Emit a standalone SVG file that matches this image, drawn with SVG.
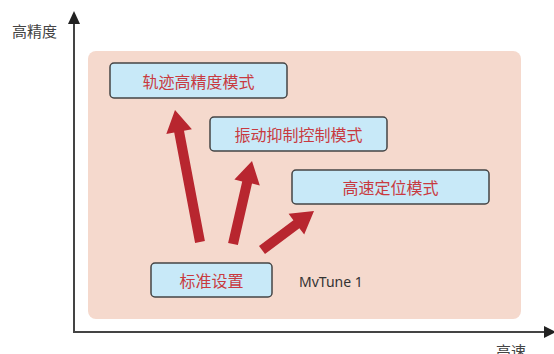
<svg xmlns="http://www.w3.org/2000/svg" width="554" height="354" viewBox="0 0 554 354">
<style>
.ax{stroke:#444;stroke-width:2;fill:none}
.axt{font-family:"Noto Sans CJK SC","Noto Sans",sans-serif;font-size:15px;fill:#444}
.box{fill:#c8e9f8;stroke:#444;stroke-width:1.5}
.lbl{font-family:"Noto Sans CJK SC","Noto Sans",sans-serif;font-size:16px;fill:#c83a40;text-anchor:middle;dominant-baseline:central}
.arr{fill:#b8262f}
.note{font-family:"Noto Sans","Noto Sans CJK SC",sans-serif;font-size:14px;fill:#333}
</style>
<rect x="0" y="0" width="554" height="354" fill="#ffffff"/>
<rect x="88" y="51" width="433" height="268" rx="8" fill="#f5d9cd"/>
<g id="axes">
<line class="ax" x1="74" y1="22" x2="74" y2="332"/>
<line class="ax" x1="73" y1="332" x2="546" y2="332"/>
<polygon points="74,11 68,24 80,24" fill="#222"/>
<polygon points="556,332 544,326 544,338" fill="#222"/>
<text class="axt" x="12" y="37">高精度</text>
<text class="axt" x="496" y="357">高速</text>
</g>
<g id="connectors">
<polygon class="arr" points="204.9,241.1 184.0,130.7 191.9,129.2 175,110 166.3,134.0 174.2,132.5 195.1,242.9"/>
<polygon class="arr" points="237.9,245.1 252.0,183.6 259.8,185.4 252,161 234.4,179.6 242.2,181.4 228.1,242.9"/>
<polygon class="arr" points="265,254 299.4,228.2 304.2,234.6 314,211 288.6,213.8 293.4,220.2 259,246"/>
</g>
<g id="node-track">
<rect class="box" x="110" y="63" width="177" height="35" rx="4"/>
<text class="lbl" x="198.5" y="80.5">轨迹高精度模式</text>
</g>
<g id="node-vib">
<rect class="box" x="210" y="117" width="177" height="34" rx="4"/>
<text class="lbl" x="298.5" y="134">振动抑制控制模式</text>
</g>
<g id="node-fast">
<rect class="box" x="292" y="170" width="197" height="34" rx="4"/>
<text class="lbl" x="390.5" y="187">高速定位模式</text>
</g>
<g id="node-std">
<rect class="box" x="151" y="263" width="121" height="34" rx="4"/>
<text class="lbl" x="211.5" y="280">标准设置</text>
</g>
<text class="note" x="299" y="287">MvTune 1</text>
</svg>
